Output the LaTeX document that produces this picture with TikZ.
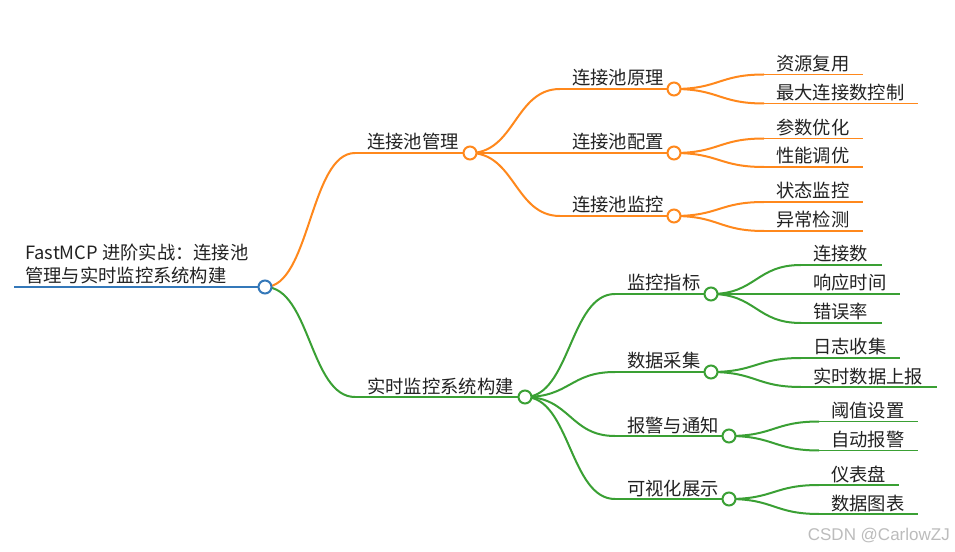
\documentclass[tikz,border=0pt]{standalone}
\usepackage{fontspec}
\setmainfont{Noto Sans CJK SC}
\newfontfamily\wmfont{Liberation Sans}
\usetikzlibrary{calc}
\definecolor{cblue}{RGB}{52,120,185}
\definecolor{corange}{RGB}{255,136,28}
\definecolor{cgreen}{RGB}{58,160,52}
\definecolor{cwm}{RGB}{188,188,188}
\definecolor{ctext}{RGB}{34,34,34}
% #1 name, #2 parent coordinate, #3 start x, #4 y, #5 end x, #6 text, #7 colour
\newcommand\mmleaf[7]{%
  \coordinate (#1-s) at (#3,#4);
  \coordinate (#1-e) at (#5,#4);
  \node[lbl] (#1-t) at ({#3+12},{#4-4}) {#6};
  \draw[link=#7] (#2) to[mm] (#1-s);
  \draw[leafline=#7] (#1-s) -- (#1-e);
}
% inner node: end is circle centre #1-c
\newcommand\mminner[7]{%
  \coordinate (#1-s) at (#3,#4);
  \coordinate (#1-c) at (#5,#4);
  \node[lbl] (#1-t) at ({#3+12},{#4-4}) {#6};
  \draw[link=#7] (#2) to[mm] (#1-s);
  \draw[uline=#7] (#1-s) -- (#1-c);
}
\begin{document}
\begin{tikzpicture}[x=1bp,y=-1bp,
  lbl/.style={anchor=base west, inner sep=0, font=\fontsize{18.3bp}{22bp}\selectfont, text=ctext},
  dot/.style={circle, draw=#1, fill=white, line width=2bp, minimum size=13bp, inner sep=0},
  uline/.style={draw=#1, line width=2bp},
  leafline/.style={draw=#1, line width=1.7bp},
  link/.style={draw=#1, line width=2bp},
  mm/.style={to path={let \p1=(\tikztostart), \p2=(\tikztotarget) in
    .. controls ({0.5*\x1+0.5*\x2},\y1) and ({0.5*\x1+0.5*\x2},\y2) .. (\tikztotarget)}},
]
\useasboundingbox (0,0) rectangle (955,552);
\fill[white] (0,0) rectangle (955,552);

% root
\coordinate (r-s) at (14,287);
\coordinate (r-c) at (265,287);
\node[lbl] (r-t1) at (25,260) {FastMCP 进阶实战：连接池};
\node[lbl] (r-t2) at (25,282.7) {管理与实时监控系统构建};
\draw[cblue, line width=2.5bp] (r-s) -- (r-c);

% orange branch
\mminner{a}{r-c}{355}{153}{470}{连接池管理}{corange}
\mminner{a1}{a-c}{560}{89}{674}{连接池原理}{corange}
\mminner{a2}{a-c}{560}{153}{674}{连接池配置}{corange}
\mminner{a3}{a-c}{560}{216}{674}{连接池监控}{corange}
\mmleaf{a1a}{a1-c}{764}{74.5}{863}{资源复用}{corange}
\mmleaf{a1b}{a1-c}{764}{103.5}{918}{最大连接数控制}{corange}
\mmleaf{a2a}{a2-c}{764}{138.5}{863}{参数优化}{corange}
\mmleaf{a2b}{a2-c}{764}{167}{863}{性能调优}{corange}
\mmleaf{a3a}{a3-c}{764}{202}{863}{状态监控}{corange}
\mmleaf{a3b}{a3-c}{764}{231}{863}{异常检测}{corange}

% green branch
\mminner{b}{r-c}{355}{397}{525}{实时监控系统构建}{cgreen}
\mminner{b1}{b-c}{615}{294}{711}{监控指标}{cgreen}
\mminner{b2}{b-c}{615}{372}{711}{数据采集}{cgreen}
\mminner{b3}{b-c}{615}{436}{729}{报警与通知}{cgreen}
\mminner{b4}{b-c}{615}{499}{729}{可视化展示}{cgreen}
\mmleaf{b1a}{b1-c}{801}{265}{882}{连接数}{cgreen}
\mmleaf{b1b}{b1-c}{801}{294}{900}{响应时间}{cgreen}
\mmleaf{b1c}{b1-c}{801}{323}{882}{错误率}{cgreen}
\mmleaf{b2a}{b2-c}{801}{358}{900}{日志收集}{cgreen}
\mmleaf{b2b}{b2-c}{801}{387}{937}{实时数据上报}{cgreen}
\mmleaf{b3a}{b3-c}{819}{421.5}{918}{阈值设置}{cgreen}
\mmleaf{b3b}{b3-c}{819}{450.5}{918}{自动报警}{cgreen}
\mmleaf{b4a}{b4-c}{819}{485}{899}{仪表盘}{cgreen}
\mmleaf{b4b}{b4-c}{819}{514}{918}{数据图表}{cgreen}

% circles on top
\node[dot=cblue] (r-dot) at (r-c) {};
\node[dot=corange] (a-dot) at (a-c) {};
\node[dot=corange] (a1-dot) at (a1-c) {};
\node[dot=corange] (a2-dot) at (a2-c) {};
\node[dot=corange] (a3-dot) at (a3-c) {};
\node[dot=cgreen] (b-dot) at (b-c) {};
\node[dot=cgreen] (b1-dot) at (b1-c) {};
\node[dot=cgreen] (b2-dot) at (b2-c) {};
\node[dot=cgreen] (b3-dot) at (b3-c) {};
\node[dot=cgreen] (b4-dot) at (b4-c) {};

% watermark
\node[anchor=base east, inner sep=0, font=\wmfont\fontsize{17bp}{20bp}\selectfont, text=cwm] (wm) at (950,540) {CSDN @CarlowZJ};
\end{tikzpicture}
\end{document}
